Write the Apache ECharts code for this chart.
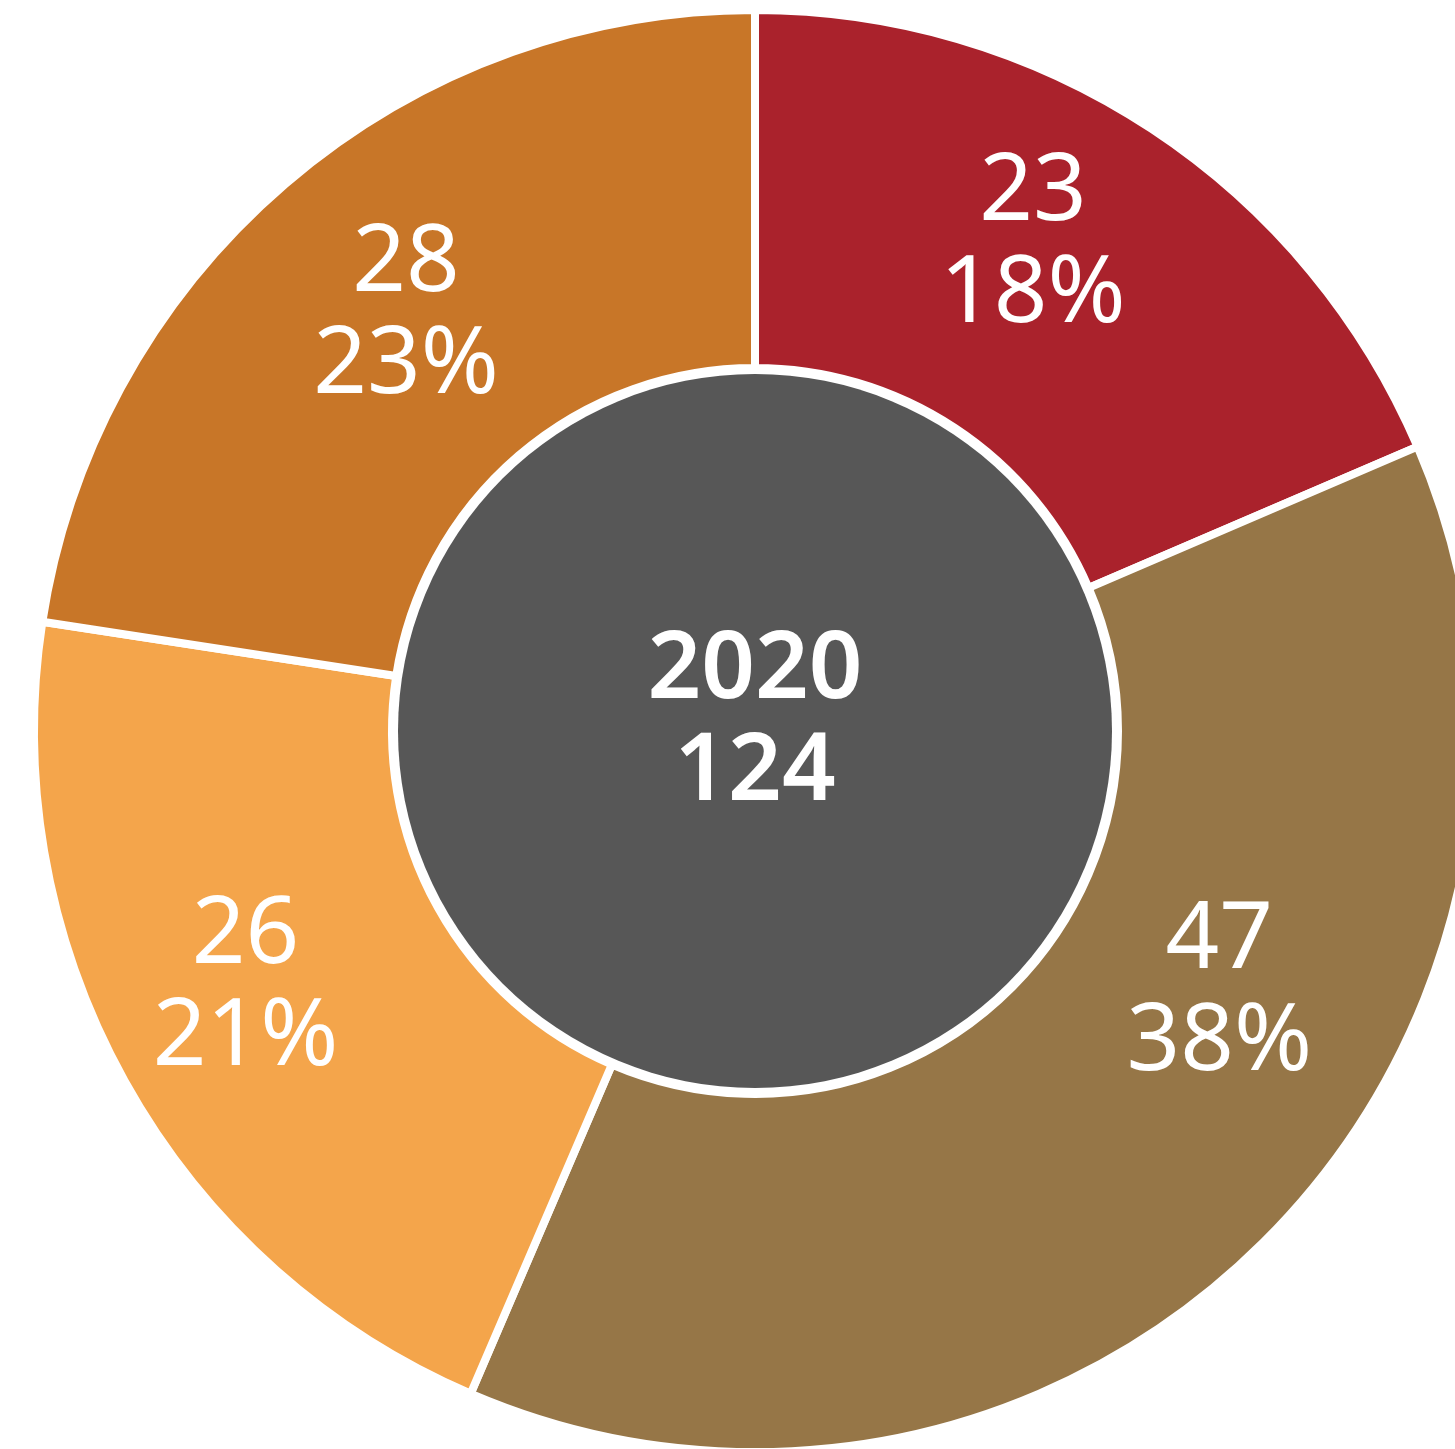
<!DOCTYPE html>
<html>
<head>
<meta charset="utf-8">
<style>
  html, body { margin: 0; padding: 0; background: #ffffff; }
  #chart { width: 1455px; height: 1449px; }
</style>
<script src="https://cdn.jsdelivr.net/npm/echarts@6/dist/echarts.min.js"></script>
</head>
<body>
<div id="chart"></div>
<script>
// Segment values, clockwise from 12 o'clock
const year = '2020';
const values = [23, 47, 26, 28];
const shareLabels = ['18%', '38%', '21%', '23%'];

// Presentation
const sliceColors = ['#AA222C', '#967647', '#F4A54B', '#C87628'];
const labelOffsets = [[-22, -32], [79, -124], [-33, -8], [6, -2]];
const centerX = 755, centerY = 731;

const total = values.reduce((a, b) => a + b, 0);

const chart = echarts.init(document.getElementById('chart'), null, { renderer: 'canvas' });

const ringData = values.map((v, i) => ({
  value: v,
  itemStyle: { color: sliceColors[i] },
  label: { offset: labelOffsets[i] }
}));

chart.setOption({
  animation: false,
  backgroundColor: '#ffffff',
  series: [
    {
      type: 'pie',
      center: [centerX, centerY],
      radius: [363, 721],
      startAngle: 90,
      clockwise: true,
      silent: true,
      itemStyle: { borderColor: '#ffffff', borderWidth: 8 },
      label: {
        show: true,
        position: 'inside',
        color: '#ffffff',
        fontFamily: 'Noto Sans',
        fontSize: 94,
        lineHeight: 102,
        formatter: p => p.value + '\n' + shareLabels[p.dataIndex]
      },
      labelLine: { show: false },
      data: ringData
    },
    {
      type: 'pie',
      center: [centerX, centerY],
      radius: [0, 357],
      silent: true,
      itemStyle: { color: '#575757' },
      label: {
        show: true,
        position: 'center',
        offset: [0, -9],
        color: '#ffffff',
        fontFamily: 'Noto Sans',
        fontWeight: 600,
        fontSize: 94,
        lineHeight: 102,
        formatter: () => year + '\n' + total
      },
      labelLine: { show: false },
      data: [{ value: total }]
    }
  ]
});
</script>
</body>
</html>
